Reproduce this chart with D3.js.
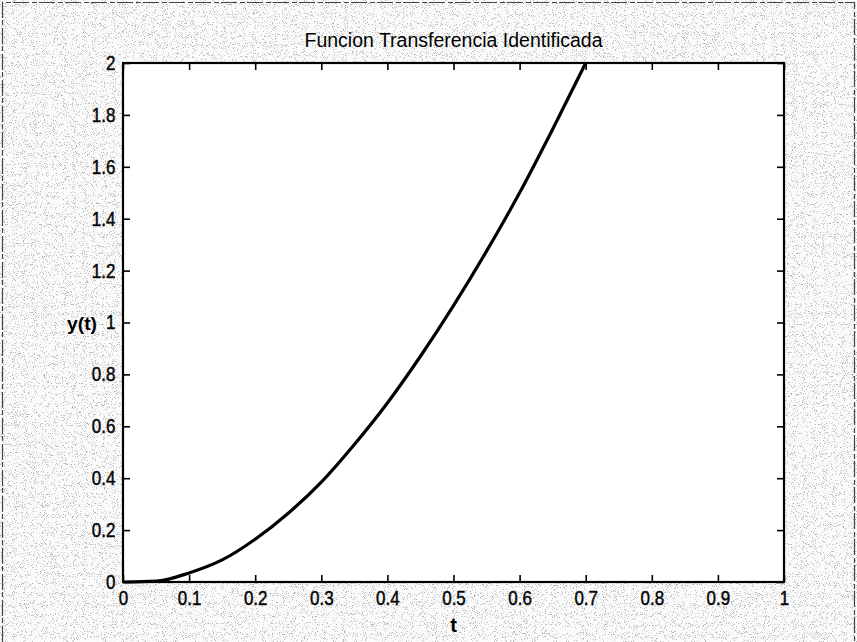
<!DOCTYPE html>
<html>
<head>
<meta charset="utf-8">
<script src="https://d3js.org/d3.v7.min.js"></script>
<style>
  body { margin: 0; background: #fff; }
  svg { display: block; }
  text { font-family: "Liberation Sans", Arial, sans-serif; fill: #000; }
</style>
</head>
<body>
<div id="chart"></div>
<script>
var width = 857, height = 642;

// values
var title = "Funcion Transferencia Identificada";
var t_values = [0, 0.05, 0.1, 0.15, 0.2, 0.25, 0.3, 0.35, 0.4, 0.45, 0.5, 0.55, 0.6, 0.65, 0.7];
var y_values = [0, 0.003, 0.035, 0.085, 0.165, 0.265, 0.385, 0.53, 0.69, 0.87, 1.065, 1.275, 1.5, 1.745, 2.0];
var x_ticks = [0, 0.1, 0.2, 0.3, 0.4, 0.5, 0.6, 0.7, 0.8, 0.9, 1];
var y_ticks = [0, 0.2, 0.4, 0.6, 0.8, 1, 1.2, 1.4, 1.6, 1.8, 2];

var margin = {top: 63, right: 73, bottom: 60, left: 123};

var svg = d3.select("#chart").append("svg").attr("width", width).attr("height", height);

// speckled scan background
var defs = svg.append("defs");
var f = defs.append("filter").attr("id", "speckle")
    .attr("x", 0).attr("y", 0).attr("width", "100%").attr("height", "100%");
f.append("feTurbulence").attr("type", "fractalNoise").attr("baseFrequency", 1.1)
    .attr("numOctaves", 2).attr("seed", 7).attr("result", "noise");
f.append("feColorMatrix").attr("in", "noise").attr("type", "matrix")
    .attr("values", "0 0 0 0 0.25  0 0 0 0 0.25  0 0 0 0 0.25  -9 0 0 0 3.7");

svg.append("rect").attr("width", width).attr("height", height).attr("fill", "#fbfbfb");
svg.append("rect").attr("width", width).attr("height", height)
    .attr("filter", "url(#speckle)").attr("opacity", 0.6);

// edges of the scan
svg.append("path")
    .attr("d", "M2.5," + (height) + "V2.5H" + (width - 2.5) + "V" + height)
    .attr("fill", "none").attr("stroke", "#444").attr("stroke-width", 1.2).attr("stroke-dasharray", "16 3 5 2");

var w = width - margin.left - margin.right,
    h = height - margin.top - margin.bottom;

var g = svg.append("g").attr("transform", "translate(" + margin.left + "," + margin.top + ")");

var x = d3.scaleLinear().domain([0, 1]).range([0, w]);
var y = d3.scaleLinear().domain([0, 2]).range([h, 0]);

g.append("rect").attr("width", w).attr("height", h).attr("fill", "#fff");

function fmt(d){ return d3.format("~g")(d); }

function styleAxis(sel, labels){
    sel.select(".domain").remove();
    sel.selectAll(".tick line").attr("stroke", "#000").attr("stroke-width", 1.6);
    if (labels){
        sel.selectAll(".tick text").attr("font-size", 20)
            .style("font-family", "'Liberation Sans', Arial, sans-serif")
            .attr("fill", "#111").attr("stroke", "#111").attr("stroke-width", 0.5);
    } else {
        sel.selectAll(".tick text").remove();
    }
}

g.append("g").attr("transform", "translate(0," + h + ")")
    .call(d3.axisBottom(x).tickValues(x_ticks).tickFormat(fmt).tickSizeInner(-7).tickSizeOuter(0).tickPadding(9))
    .call(function(s){ styleAxis(s, true); })
    .selectAll(".tick text").attr("transform", "scale(0.85,1)");

g.append("g")
    .call(d3.axisTop(x).tickValues(x_ticks).tickSizeInner(-7).tickSizeOuter(0))
    .call(function(s){ styleAxis(s, false); });

g.append("g")
    .call(d3.axisLeft(y).tickValues(y_ticks).tickFormat(fmt).tickSizeInner(-7).tickSizeOuter(0).tickPadding(9))
    .call(function(s){ styleAxis(s, true); })
    .selectAll(".tick text").attr("transform", "scale(0.85,1)");

g.append("g").attr("transform", "translate(" + w + ",0)")
    .call(d3.axisRight(y).tickValues(y_ticks).tickSizeInner(-7).tickSizeOuter(0))
    .call(function(s){ styleAxis(s, false); });

// box
g.append("rect").attr("width", w).attr("height", h)
    .attr("fill", "none").attr("stroke", "#000").attr("stroke-width", 2.2);

// curve
var pts = t_values.map(function(t, i){ return [t, y_values[i]]; });
var line = d3.line()
    .x(function(d){ return x(d[0]); })
    .y(function(d){ return y(d[1]); })
    .curve(d3.curveMonotoneX);

g.append("path").datum(pts)
    .attr("d", line)
    .attr("fill", "none").attr("stroke", "#000").attr("stroke-width", 3.2)
    .attr("stroke-linejoin", "round");

// title and axis labels
svg.append("text")
    .attr("x", margin.left + w / 2).attr("y", 47)
    .attr("text-anchor", "middle")
    .attr("font-size", 20)
    .attr("textLength", 298).attr("lengthAdjust", "spacingAndGlyphs")
    .text(title);

svg.append("text")
    .attr("x", margin.left + x(0.5)).attr("y", 632)
    .attr("text-anchor", "middle").attr("font-size", 20).attr("font-weight", "bold")
    .text("t");

svg.append("text")
    .attr("x", 67).attr("y", margin.top + y(1) + 7)
    .attr("font-size", 19).attr("font-weight", "bold")
    .attr("textLength", 30).attr("lengthAdjust", "spacingAndGlyphs")
    .text("y(t)");
</script>
</body>
</html>
